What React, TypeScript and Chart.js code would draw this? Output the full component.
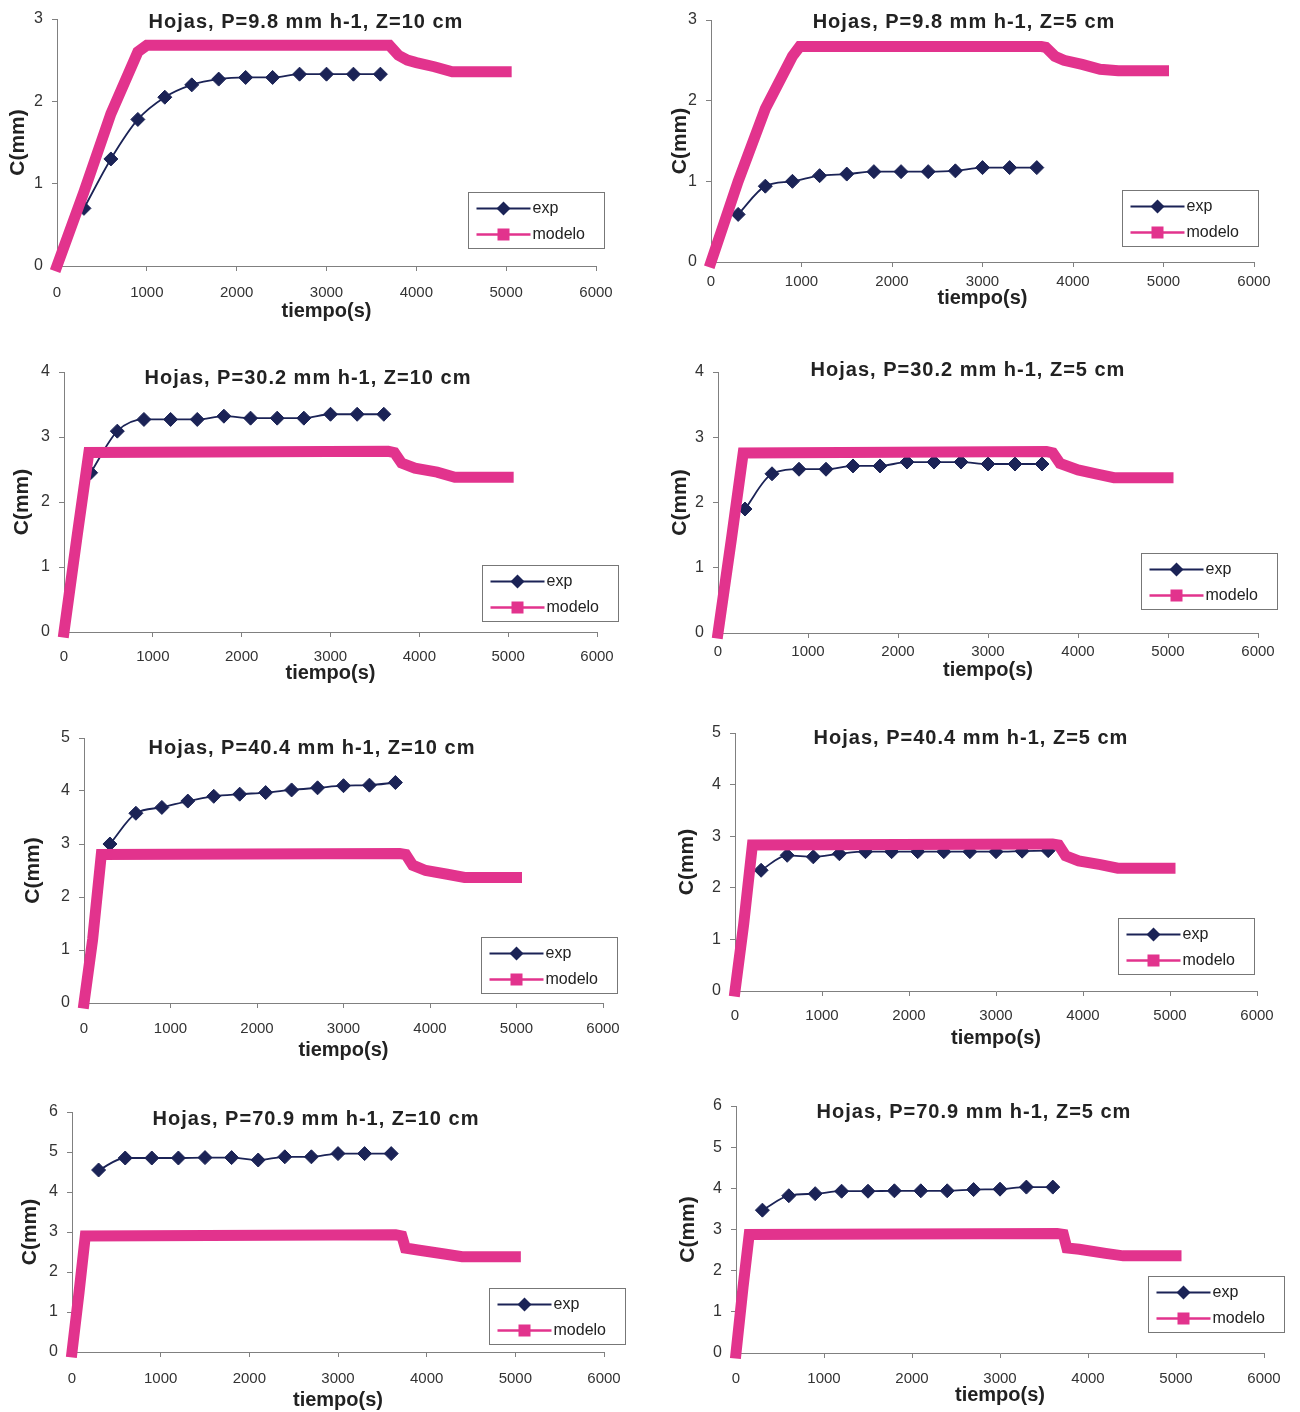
import React, { useEffect, useRef } from 'react';
import { Chart, registerables } from 'chart.js';

Chart.register(...registerables);

// ---------- data ----------
const EXP_TIME = [300, 600, 900, 1200, 1500, 1800, 2100, 2400, 2700, 3000, 3300, 3600];

const EXP_P98_Z10 = [0.7, 1.3, 1.78, 2.05, 2.2, 2.27, 2.29, 2.29, 2.33, 2.33, 2.33, 2.33];
const EXP_P98_Z5 = [0.59, 0.94, 1.0, 1.07, 1.09, 1.12, 1.12, 1.12, 1.13, 1.17, 1.17, 1.17];
const EXP_P302_Z10 = [2.45, 3.09, 3.27, 3.27, 3.27, 3.32, 3.29, 3.29, 3.29, 3.35, 3.35, 3.35];
const EXP_P302_Z5 = [1.9, 2.44, 2.51, 2.51, 2.56, 2.56, 2.62, 2.62, 2.62, 2.59, 2.59, 2.59];
const EXP_P404_Z10 = [3.0, 3.58, 3.69, 3.81, 3.9, 3.94, 3.97, 4.02, 4.06, 4.1, 4.11, 4.16];
const EXP_P404_Z5 = [2.34, 2.63, 2.6, 2.66, 2.7, 2.7, 2.7, 2.7, 2.7, 2.7, 2.71, 2.72];
const EXP_P709_Z10 = [4.55, 4.85, 4.85, 4.85, 4.86, 4.86, 4.8, 4.88, 4.88, 4.96, 4.96, 4.96];
const EXP_P709_Z5 = [3.47, 3.82, 3.87, 3.93, 3.93, 3.94, 3.94, 3.94, 3.97, 3.98, 4.03, 4.03];

const MOD_T_P98_Z10 = [0, 300, 600, 900, 1000, 3650, 3700, 3800, 3900, 4000, 4200, 4400, 5000];
const MOD_V_P98_Z10 = [0, 0.9, 1.85, 2.6, 2.68, 2.68, 2.68, 2.56, 2.5, 2.47, 2.42, 2.36, 2.36];
const MOD_T_P98_Z5 = [0, 300, 600, 900, 980, 3650, 3700, 3800, 3900, 4100, 4300, 4500, 5000];
const MOD_V_P98_Z5 = [0, 1.0, 1.9, 2.55, 2.67, 2.67, 2.66, 2.55, 2.5, 2.45, 2.39, 2.37, 2.37];
const MOD_T_P302_Z10 = [0, 150, 280, 3650, 3720, 3800, 3950, 4200, 4400, 5000];
const MOD_V_P302_Z10 = [0, 1.5, 2.76, 2.78, 2.76, 2.6, 2.52, 2.46, 2.38, 2.38];
const MOD_T_P302_Z5 = [0, 150, 280, 3650, 3720, 3800, 4000, 4200, 4400, 5000];
const MOD_V_P302_Z5 = [0, 1.45, 2.76, 2.78, 2.76, 2.6, 2.5, 2.44, 2.38, 2.38];
const MOD_T_P404_Z10 = [0, 100, 200, 3650, 3720, 3800, 3950, 4200, 4400, 5000];
const MOD_V_P404_Z10 = [0, 1.2, 2.8, 2.82, 2.8, 2.6, 2.5, 2.43, 2.37, 2.37];
const MOD_T_P404_Z5 = [0, 100, 200, 3650, 3720, 3800, 3950, 4200, 4400, 5000];
const MOD_V_P404_Z5 = [0, 1.3, 2.83, 2.85, 2.83, 2.62, 2.52, 2.45, 2.38, 2.38];
const MOD_T_P709_Z10 = [0, 80, 150, 3650, 3720, 3760, 3900, 4200, 4400, 5000];
const MOD_V_P709_Z10 = [0, 1.5, 2.9, 2.93, 2.9, 2.6, 2.55, 2.45, 2.38, 2.38];
const MOD_T_P709_Z5 = [0, 80, 150, 3650, 3720, 3760, 3900, 4200, 4400, 5000];
const MOD_V_P709_Z5 = [0, 1.6, 2.88, 2.9, 2.88, 2.55, 2.52, 2.42, 2.36, 2.36];

const TITLES = [
  'Hojas, P=9.8 mm h-1, Z=10 cm',
  'Hojas, P=9.8 mm h-1, Z=5 cm',
  'Hojas, P=30.2 mm h-1, Z=10 cm',
  'Hojas, P=30.2 mm h-1, Z=5 cm',
  'Hojas, P=40.4 mm h-1, Z=10 cm',
  'Hojas, P=40.4 mm h-1, Z=5 cm',
  'Hojas, P=70.9 mm h-1, Z=10 cm',
  'Hojas, P=70.9 mm h-1, Z=5 cm',
];
const EXP_SERIES = [EXP_P98_Z10, EXP_P98_Z5, EXP_P302_Z10, EXP_P302_Z5, EXP_P404_Z10, EXP_P404_Z5, EXP_P709_Z10, EXP_P709_Z5];
const MOD_TIMES = [MOD_T_P98_Z10, MOD_T_P98_Z5, MOD_T_P302_Z10, MOD_T_P302_Z5, MOD_T_P404_Z10, MOD_T_P404_Z5, MOD_T_P709_Z10, MOD_T_P709_Z5];
const MOD_SERIES = [MOD_V_P98_Z10, MOD_V_P98_Z5, MOD_V_P302_Z10, MOD_V_P302_Z5, MOD_V_P404_Z10, MOD_V_P404_Z5, MOD_V_P709_Z10, MOD_V_P709_Z5];
const Y_MAX = [3, 3, 4, 4, 5, 5, 6, 6];
const X_MAX = 6000;
const X_STEP = 1000;
const X_TITLE = 'tiempo(s)';
const Y_TITLE = 'C(mm)';
const LEGEND_LABELS = ['exp', 'modelo'];

// ---------- layout (page coordinates) ----------
const COL_LEFT = [0, 645];
const COL_WIDTH = [645, 655];
const ROW_TOP = [0, 345, 712, 1080];
const ROW_HEIGHT = [330, 345, 358, 332];
// plot area: [left, right, top, bottom]
const PLOT = [
  [57, 596, 19, 266],
  [711, 1254, 20, 262],
  [64, 597, 372, 632],
  [718, 1258, 372, 633],
  [84, 603, 738, 1003],
  [735, 1257, 733, 991],
  [72, 604, 1112, 1352],
  [736, 1264, 1106, 1353],
];
const XTICK_PAD = [13, 6, 11, 5, 12, 11, 13, 12];
const TITLE_POS = [[306, 22], [964, 22], [308, 378], [968, 370], [312, 748], [971, 738], [316, 1119], [974, 1112]];
const LEGEND_POS = [[468, 192], [1122, 190], [482, 565], [1141, 553], [481, 937], [1118, 918], [489, 1288], [1148, 1276]];
const YTITLE_X = [18, 680, 22, 680, 33, 687, 30, 688];
const XTITLE_Y = [311, 298, 673, 670, 1050, 1038, 1400, 1395];

const NAVY = '#1b2356';
const PINK = '#e2338d';
const FONT = '"Liberation Sans", Arial, sans-serif';

const decor = {
  id: 'decor',
  afterDraw(chart: any, _args: any, opts: any) {
    const ctx = chart.ctx as CanvasRenderingContext2D;
    ctx.save();
    // title
    ctx.font = `bold 20px ${FONT}`;
    (ctx as any).letterSpacing = '1px';
    ctx.fillStyle = '#222';
    ctx.textAlign = 'center';
    ctx.textBaseline = 'middle';
    ctx.fillText(opts.text, opts.tx, opts.ty);
    (ctx as any).letterSpacing = '0px';
    // legend
    const lx = Math.round(opts.lx) + 0.5;
    const ly = Math.round(opts.ly) + 0.5;
    const w = 136, h = 56;
    ctx.fillStyle = '#fff';
    ctx.fillRect(lx, ly, w, h);
    ctx.strokeStyle = '#777';
    ctx.lineWidth = 1;
    ctx.strokeRect(lx, ly, w, h);
    const r1 = ly + 16, r2 = ly + 42;
    ctx.strokeStyle = NAVY;
    ctx.lineWidth = 1.8;
    ctx.beginPath(); ctx.moveTo(lx + 8, r1); ctx.lineTo(lx + 62, r1); ctx.stroke();
    ctx.fillStyle = NAVY;
    ctx.beginPath();
    ctx.moveTo(lx + 35 - 7, r1); ctx.lineTo(lx + 35, r1 - 7); ctx.lineTo(lx + 35 + 7, r1); ctx.lineTo(lx + 35, r1 + 7);
    ctx.closePath(); ctx.fill();
    ctx.strokeStyle = PINK;
    ctx.lineWidth = 2.5;
    ctx.beginPath(); ctx.moveTo(lx + 8, r2); ctx.lineTo(lx + 62, r2); ctx.stroke();
    ctx.fillStyle = PINK;
    ctx.fillRect(lx + 29, r2 - 6, 12, 12);
    ctx.fillStyle = '#222';
    ctx.font = `16px ${FONT}`;
    ctx.textAlign = 'left';
    ctx.textBaseline = 'middle';
    ctx.fillText(opts.l1, lx + 64, r1);
    ctx.fillText(opts.l2, lx + 64, r2);
    ctx.restore();
  },
};

function Panel({ idx }: { idx: number }) {
  const ref = useRef<HTMLCanvasElement | null>(null);
  const col = idx % 2;
  const row = Math.floor(idx / 2);
  const cl = COL_LEFT[col];
  const cw = COL_WIDTH[col];
  const ct = ROW_TOP[row];
  const ch = ROW_HEIGHT[row];

  useEffect(() => {
    if (!ref.current) return;
    const [pl, pr, pt, pb] = PLOT[idx];
    const yW = pl - cl;
    const padTop = pt - ct;
    const padRight = cl + cw - pr;
    const xH = ct + ch - pb;
    const xTitlePadBottom = Math.max(0, ct + ch - XTITLE_Y[idx] - 12);
    const yTitlePadTop = Math.max(0, YTITLE_X[idx] - cl - 12.6);

    const chart = new Chart(ref.current, {
      type: 'line',
      data: {
        datasets: [
          {
            label: LEGEND_LABELS[0],
            data: EXP_TIME.map((t, i) => ({ x: t, y: EXP_SERIES[idx][i] })),
            borderColor: NAVY,
            backgroundColor: NAVY,
            borderWidth: 1.8,
            pointStyle: 'rectRot',
            pointRadius: 7,
            pointBorderWidth: 1,
            pointBackgroundColor: NAVY,
            cubicInterpolationMode: 'monotone',
            order: 1,
          } as any,
          {
            label: LEGEND_LABELS[1],
            data: MOD_TIMES[idx].map((t, i) => ({ x: t, y: MOD_SERIES[idx][i] })),
            borderColor: PINK,
            backgroundColor: PINK,
            borderWidth: 11,
            pointRadius: 0,
            borderJoinStyle: 'miter',
            borderCapStyle: 'square',
            tension: 0,
            clip: false,
            order: 0,
          } as any,
        ],
      },
      options: {
        responsive: false,
        animation: false,
        devicePixelRatio: 1,
        layout: { padding: { left: 0, top: padTop, right: padRight, bottom: 0 } },
        scales: {
          x: {
            type: 'linear',
            min: 0,
            max: X_MAX,
            ticks: {
              stepSize: X_STEP,
              autoSkip: false,
              maxRotation: 0,
              padding: XTICK_PAD[idx],
              color: '#333',
              font: { family: FONT, size: 15 },
              callback: (v: any) => String(v),
            },
            grid: { display: true, drawOnChartArea: false, drawTicks: true, tickLength: 5, color: '#808080' },
            border: { display: true, color: '#808080', width: 1 },
            title: {
              display: true,
              text: X_TITLE,
              color: '#222',
              font: { family: FONT, size: 20, weight: 'bold' },
              padding: { top: 0, bottom: xTitlePadBottom },
            },
            afterFit: (s: any) => { s.height = xH; },
          } as any,
          y: {
            type: 'linear',
            min: 0,
            max: Y_MAX[idx],
            ticks: {
              stepSize: 1,
              padding: 9,
              color: '#333',
              font: { family: FONT, size: 16 },
              callback: (v: any) => String(v),
            },
            grid: { display: true, drawOnChartArea: false, drawTicks: true, tickLength: 5, color: '#808080' },
            border: { display: true, color: '#808080', width: 1 },
            title: {
              display: true,
              text: Y_TITLE,
              color: '#222',
              font: { family: FONT, size: 21, weight: 'bold' },
              padding: { top: yTitlePadTop, bottom: 0 },
            },
            afterFit: (s: any) => { s.width = yW; },
          } as any,
        },
        plugins: {
          legend: { display: false },
          tooltip: { enabled: false },
          title: { display: false },
          decor: {
            text: TITLES[idx],
            tx: TITLE_POS[idx][0] - cl,
            ty: TITLE_POS[idx][1] - ct,
            lx: LEGEND_POS[idx][0] - cl,
            ly: LEGEND_POS[idx][1] - ct,
            l1: LEGEND_LABELS[0],
            l2: LEGEND_LABELS[1],
          },
        } as any,
      },
      plugins: [decor],
    });
    return () => chart.destroy();
  }, [idx]);

  return (
    <canvas
      ref={ref}
      width={cw}
      height={ch}
      style={{ position: 'absolute', left: cl, top: ct, width: cw, height: ch }}
    />
  );
}

export default function App() {
  return (
    <div style={{ position: 'absolute', left: 0, top: 0, width: 1300, height: 1412, background: '#fff' }}>
      {TITLES.map((_, i) => (
        <Panel key={i} idx={i} />
      ))}
    </div>
  );
}
